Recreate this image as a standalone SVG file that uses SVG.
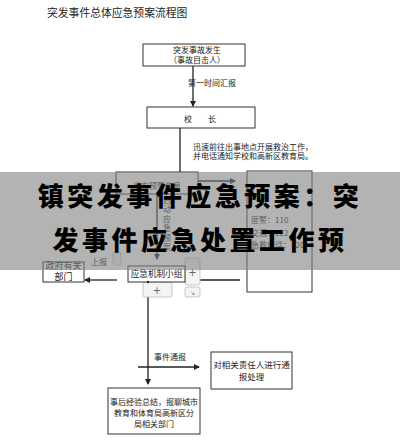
<svg xmlns="http://www.w3.org/2000/svg" width="400" height="444" viewBox="0 0 400 444">
<defs>
<style>
.t{font-family:"Noto Sans CJK SC","Noto Sans",sans-serif;fill:#222;font-size:8px}
.box{fill:#fff;stroke:#333;stroke-width:1}
.ln{fill:none;stroke:#222;stroke-width:1.3}
.h{fill:#f4f4f4;stroke:#bbb;stroke-width:0.8}
.ht{font-family:"DejaVu Sans",sans-serif;fill:#666;font-size:10px}
.big{font-family:"Noto Sans CJK SC",sans-serif;font-weight:900;font-size:26px;fill:#000;letter-spacing:3.5px}
</style>
<marker id="ar" markerWidth="6" markerHeight="6" refX="5" refY="3" orient="auto" markerUnits="userSpaceOnUse">
<path d="M0,0 L6,3 L0,6 z" fill="#222"/>
</marker>
</defs>
<rect width="400" height="444" fill="#fff"/>
<text class="t" x="47" y="17" style="font-size:10.8px">突发事件总体应急预案流程图</text>

<g id="connectors">
<line class="ln" x1="193" y1="66" x2="193" y2="106" marker-end="url(#ar)"/>
<line class="ln" x1="180" y1="128" x2="180" y2="178" marker-end="url(#ar)"/>
<line class="ln" x1="198" y1="181" x2="235" y2="181" marker-end="url(#ar)"/>
<line class="ln" x1="157" y1="194" x2="157" y2="259" marker-end="url(#ar)"/>
<line class="ln" x1="117" y1="280" x2="85" y2="280" marker-end="url(#ar)"/>
<line class="ln" x1="200" y1="280" x2="240" y2="280"/>
<line class="ln" x1="148" y1="282" x2="148" y2="384" marker-end="url(#ar)"/>
<line class="ln" x1="138" y1="367" x2="199" y2="367" marker-end="url(#ar)"/>
<text class="t" x="212" y="86" text-anchor="middle">第一时间汇报</text>
<text class="t" x="193" y="150">迅速前往出事地点开展救治工作，</text>
<text class="t" x="193" y="159">并电话通知学校和高新区教育局。</text>
<text class="t" x="91" y="265">上报</text>
<text class="t" x="170" y="360" text-anchor="middle">事件通报</text>
<g class="t" text-anchor="middle">
<text x="167" y="203">启</text>
<text x="167" y="212">动</text>
<text x="167" y="222">应</text>
<text x="167" y="231">急</text>
<text x="167" y="241">预</text>
<text x="167" y="250">案</text>
</g>
</g>

<g id="n1">
<rect class="box" x="143" y="44" width="102" height="22"/>
<text class="t" x="197" y="53" text-anchor="middle">突发事故发生</text>
<text class="t" x="197" y="63" text-anchor="middle">（事故目击人）</text>
</g>
<g id="n2">
<rect class="box" x="147" y="107" width="108" height="21"/>
<text class="t" x="200" y="122" text-anchor="middle" xml:space="preserve">校　　长</text>
</g>
<g id="n3">
<rect class="box" x="116" y="172" width="82" height="22"/>
<text class="t" x="157" y="189" text-anchor="middle">发布预警信息</text>
</g>
<g id="n4">
<rect class="box" x="247" y="171" width="65" height="121"/>
<text class="t" x="251" y="223">匪警：110</text>
<text class="t" x="251" y="236">交通：122</text>
<text class="t" x="251" y="248">急救电话：120</text>
</g>
<g id="n5">
<rect class="box" x="43" y="262" width="41" height="20"/>
<text class="t" x="63.5" y="269" text-anchor="middle" style="font-size:9px">政府有关</text>
<text class="t" x="63.5" y="280" text-anchor="middle" style="font-size:9px">部门</text>
</g>
<g id="handles">
<rect class="h" x="113" y="252" width="8" height="13" rx="2"/>
<rect class="h" x="185" y="258" width="15" height="27" rx="2"/>
<text class="ht" x="192.5" y="276" text-anchor="middle">+</text>
<rect class="h" x="185" y="287" width="15" height="10" rx="2"/>
<text class="ht" x="192.5" y="295" text-anchor="middle" style="font-size:6px">↘</text>
<rect class="h" x="143" y="282" width="29" height="15" rx="2"/>
<text class="ht" x="157" y="294" text-anchor="middle">+</text>
</g>
<g id="n6">
<rect class="box" x="128" y="266" width="57" height="16"/>
<text class="t" x="156.5" y="277" text-anchor="middle" style="font-size:8.6px">应急机制小组</text>
<circle cx="148" cy="282" r="1.2" fill="#222"/>
</g>
<g id="n7">
<rect class="box" x="211" y="352" width="81" height="37"/>
<text class="t" x="251.5" y="368" text-anchor="middle" style="font-size:8.5px">对相关责任人进行通</text>
<text class="t" x="251.5" y="380" text-anchor="middle" style="font-size:8.5px">报处理</text>
</g>
<g id="n8">
<rect class="box" x="108" y="388" width="92" height="46"/>
<text class="t" x="154" y="405" text-anchor="middle">事后经验总结，报聊城市</text>
<text class="t" x="154" y="416" text-anchor="middle">教育和体育局高新区分</text>
<text class="t" x="154" y="427" text-anchor="middle">局相关部门</text>
</g>

<rect x="0" y="172" width="400" height="98" fill="#808080" opacity="0.6"/>
<text class="big" x="200" y="206" text-anchor="middle">镇突发事件应急预案：突</text>
<text class="big" x="200" y="250" text-anchor="middle">发事件应急处置工作预</text>
</svg>
